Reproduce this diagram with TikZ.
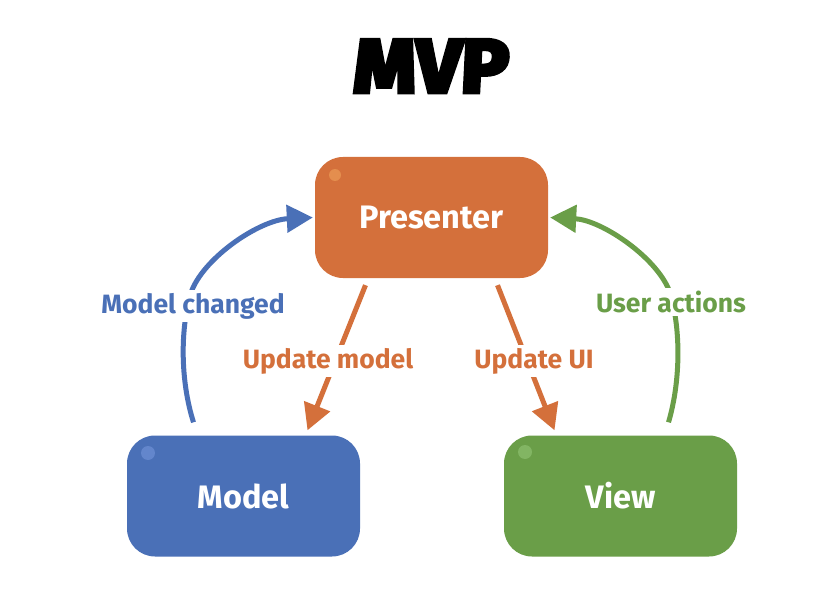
\documentclass[tikz,border=0pt]{standalone}
\usepackage{fontspec}
\setmainfont{Fira Sans}
\newfontfamily\titlefont{Fira Sans}[FakeBold=6,FakeSlant=0.05,FakeStretch=1.06]
\usetikzlibrary{arrows.meta,calc}
\definecolor{cor}{HTML}{D4703B}
\definecolor{corl}{HTML}{E48E4E}
\definecolor{cbl}{HTML}{4A70B7}
\definecolor{cbll}{HTML}{6386CC}
\definecolor{cgr}{HTML}{6A9E48}
\definecolor{cgrl}{HTML}{82B563}
\tikzset{
  box/.style={rounded corners=28pt, minimum width=233pt, minimum height=121pt, inner sep=0pt,
    text=white, font=\bfseries\fontsize{32.5}{32.5}\selectfont},
  conn/.style={line width=5pt, -{Triangle[length=26pt,width=27pt]}},
  lbl/.style={fill=white, inner sep=3pt, font=\bfseries\fontsize{26.5}{26.5}\selectfont}
}
\begin{document}
\begin{tikzpicture}[x=1pt,y=-1pt]
\useasboundingbox (0,0) rectangle (817,591);
\fill[white] (0,0) rectangle (817,591);
\node[anchor=base, font=\titlefont\bfseries\fontsize{75}{75}\selectfont] (title) at (430,92) {MVP};
\node[box, fill=cor] (presenter) at (431.5,217.5) {Presenter};
\node[box, fill=cbl] (model) at (243.5,496) {Model};
\node[box, fill=cgr] (view) at (620.5,496) {View};
\fill[corl] (335,175) circle (6);
\fill[cbll] (148,453) circle (7);
\fill[cgrl] (525,452) circle (7);
% blue
\draw[conn, cbl] ($(model.north)+(-50,-13)$) .. controls (180,380) and (180,326) .. (192,290)
   .. controls (206,256) and (260,220) .. ($(presenter.west)+(-2,0)$);
% green
\draw[conn, cgr] ($(view.north)+(48,-13)$) .. controls (681,380) and (681,326) .. (669,290)
   .. controls (655,256) and (601,220) .. ($(presenter.east)+(2,0)$);
% orange
\draw[conn, cor] ($(presenter.south)+(-66,7)$) -- ($(model.north)+(64,-5)$);
\draw[conn, cor] ($(presenter.south)+(66,7)$) -- ($(view.north)+(-66,-5)$);
\node[lbl, text=cbl] (lmc) at (193,306) {Model changed};
\node[lbl, text=cgr] (lua) at (671,302) {User actions};
\node[lbl, text=cor] (lum) at (328,361) {Update model};
\node[lbl, text=cor] (luu) at (534,361) {Update UI};
\end{tikzpicture}
\end{document}
